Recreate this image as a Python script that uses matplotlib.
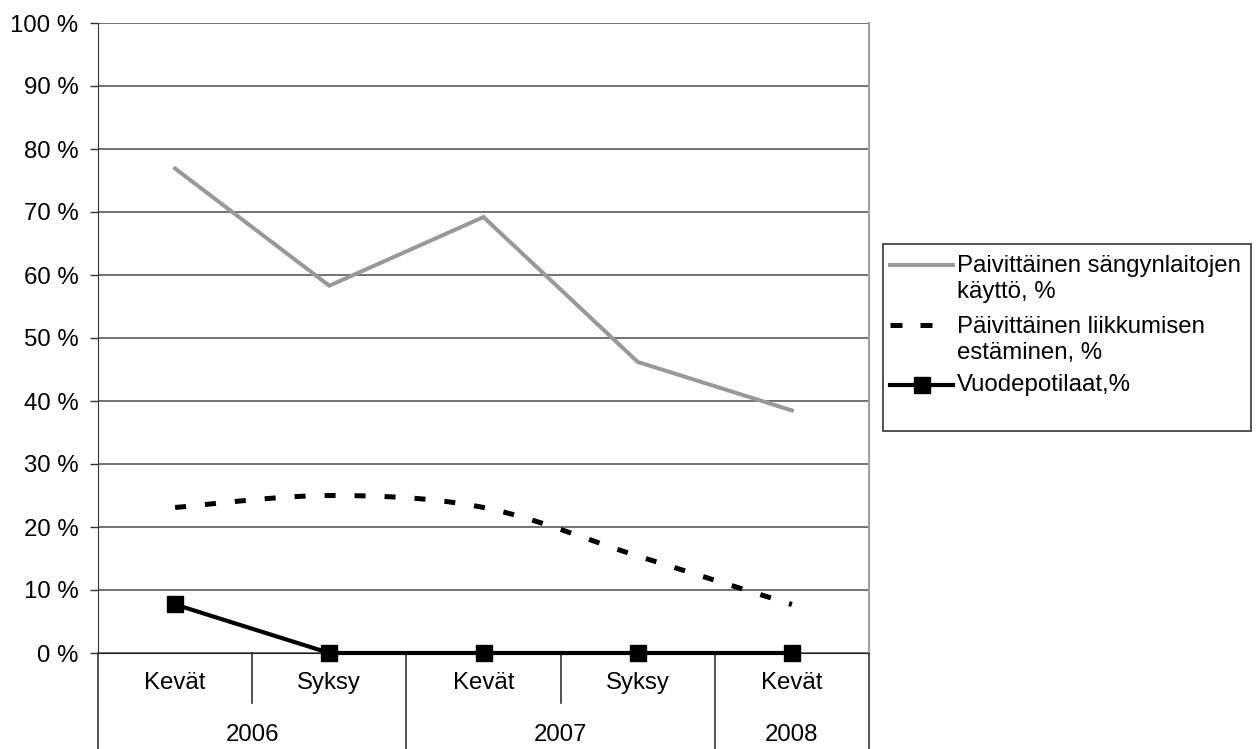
import numpy as np
import matplotlib.pyplot as plt
from matplotlib.lines import Line2D
from matplotlib.patches import Rectangle

plt.rcParams['font.family'] = ['Liberation Sans', 'DejaVu Sans']

seasons = ['Kevät', 'Syksy', 'Kevät', 'Syksy', 'Kevät']
years = ['2006', '2007', '2008']
year_spans = [(0, 2), (2, 4), (4, 5)]

sangynlaidat = [76.9, 58.3, 69.2, 46.2, 38.5]
liikkumisen_estaminen = [23.1, 25.0, 23.1, 15.4, 7.7]
vuodepotilaat = [7.7, 0.0, 0.0, 0.0, 0.0]

labels = ['Paivittäinen sängynlaitojen\nkäyttö, %',
          'Päivittäinen liikkumisen\nestäminen, %',
          'Vuodepotilaat,%']

FS = 17.3


def smooth_curve(xs, ys, n=40):
    # cubic bezier segments with catmull-rom style tangents
    xs = np.asarray(xs, float)
    ys = np.asarray(ys, float)
    px, py = [], []
    m = len(xs)
    for i in range(m - 1):
        i0 = max(i - 1, 0)
        i3 = min(i + 2, m - 1)
        c1x = xs[i] + (xs[i + 1] - xs[i0]) / 6
        c1y = ys[i] + (ys[i + 1] - ys[i0]) / 6
        c2x = xs[i + 1] - (xs[i3] - xs[i]) / 6
        c2y = ys[i + 1] - (ys[i3] - ys[i]) / 6
        t = np.linspace(0, 1, n, endpoint=(i == m - 2))
        a, b, c, d = (1 - t) ** 3, 3 * (1 - t) ** 2 * t, 3 * (1 - t) * t ** 2, t ** 3
        px.extend(a * xs[i] + b * c1x + c * c2x + d * xs[i + 1])
        py.extend(a * ys[i] + b * c1y + c * c2y + d * ys[i + 1])
    return np.array(px), np.array(py)


fig = plt.figure(figsize=(12.6, 7.49), dpi=100)
ax = fig.add_axes([98 / 1260, 1 - 653 / 749, 771 / 1260, 630 / 749])

x = np.arange(len(seasons))
ax.set_xlim(-0.5, len(seasons) - 0.5)
ax.set_ylim(0, 100)

ax.set_yticks(np.arange(0, 101, 10))
ax.set_yticklabels(['{} %'.format(v) for v in range(0, 101, 10)], fontsize=FS)
ax.tick_params(axis='y', length=6, width=1, pad=8, color='#333333')
ax.set_xticks([])
ax.yaxis.grid(True, color='#5a5a5a', linewidth=1.2)
ax.set_axisbelow(True)

ax.spines['top'].set_visible(False)
ax.spines['right'].set_color('#a0a0a0')
ax.spines['right'].set_linewidth(1.5)
ax.spines['left'].set_color('#333333')
ax.spines['bottom'].set_color('#222222')

gray = '#999999'
ax.plot(x, sangynlaidat, color=gray, lw=2.9, solid_joinstyle='miter', clip_on=False, zorder=3)
sx, sy = smooth_curve(x, liikkumisen_estaminen)
ax.plot(sx, sy, color='black', lw=3.6, dashes=(2.2, 3.8), dash_capstyle='butt', zorder=3)
ax.plot(x, vuodepotilaat, color='black', lw=3.0, marker='s', markersize=12,
        clip_on=False, zorder=4)

# two-level category axis
xt = ax.get_xaxis_transform()
ax.plot([-0.5, -0.5], [0, -0.152], transform=xt, color='#333333', lw=1.2, clip_on=False)
for i in range(len(seasons)):
    ax.text(i, -0.047, seasons[i], transform=xt, ha='center', va='center', fontsize=FS)
for (s, e), yr in zip(year_spans, years):
    ax.text((s + e - 1) / 2, -0.13, yr, transform=xt, ha='center', va='center', fontsize=FS)
    ax.plot([e - 0.5, e - 0.5], [0, -0.152], transform=xt,
            color='#333333', lw=1.2, clip_on=False)
    for k in range(s + 1, e):
        ax.plot([k - 0.5, k - 0.5], [0, -0.079], transform=xt,
                color='#333333', lw=1.2, clip_on=False)

# legend box
W, H = 1260, 749


def fx(px):
    return px / W


def fy(py):
    return 1 - py / H


fig.patches.append(Rectangle((fx(883), fy(431)), fx(1251) - fx(883), fy(244) - fy(431),
                             transform=fig.transFigure, fill=False,
                             edgecolor='#333333', lw=1.2))
fig.lines.append(Line2D([fx(890), fx(953)], [fy(265), fy(265)], transform=fig.transFigure,
                        color=gray, lw=2.9))
fig.lines.append(Line2D([fx(890), fx(933)], [fy(325), fy(325)], transform=fig.transFigure,
                        color='black', lw=3.6, dashes=(2.4, 3.6), dash_capstyle='butt'))
fig.lines.append(Line2D([fx(890), fx(921.5), fx(953)], [fy(385)] * 3,
                        transform=fig.transFigure, color='black', lw=3.0,
                        marker='s', markersize=12, markevery=[1]))

for ytxt, lab in zip([279, 340, 385], labels):
    fig.text(fx(957), fy(ytxt), lab, ha='left', va='center', fontsize=FS,
             linespacing=1.2)

fig.savefig('out.png', dpi=100)
